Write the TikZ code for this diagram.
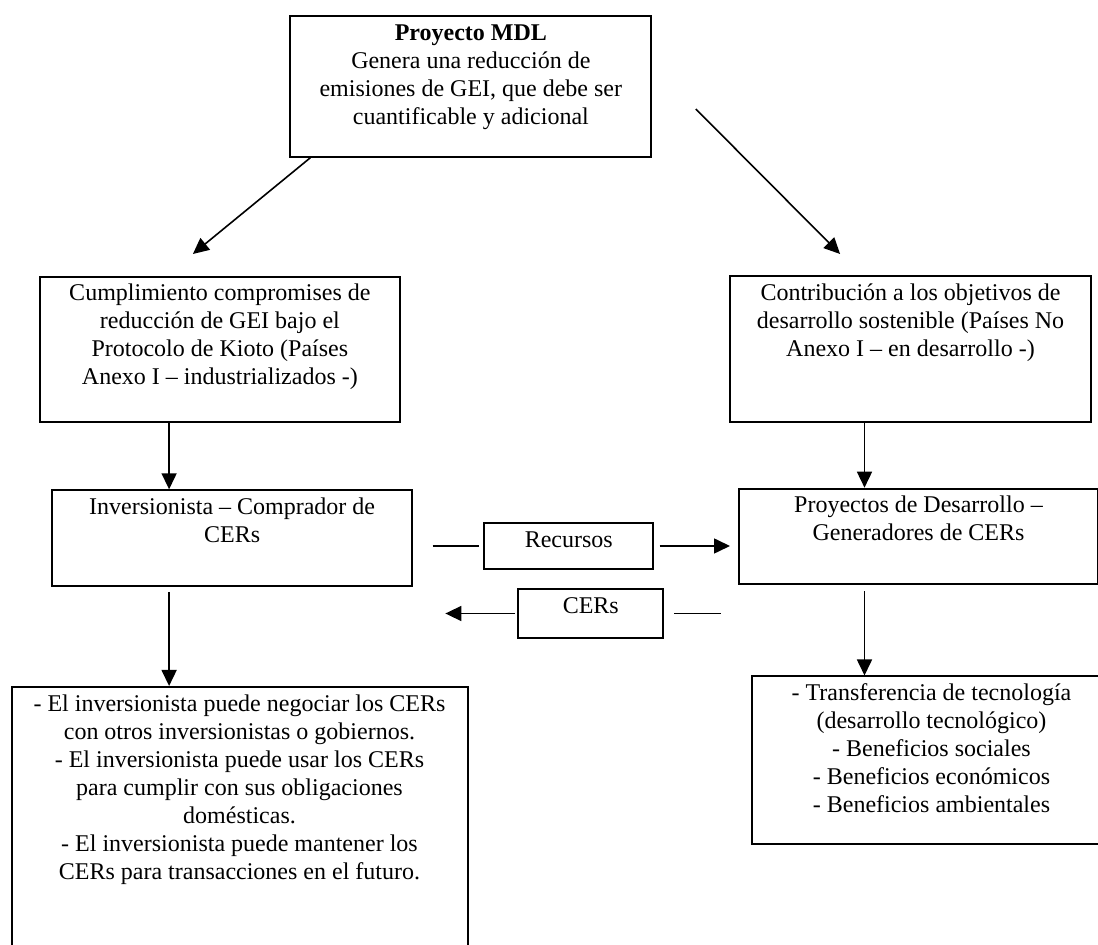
\documentclass[tikz,border=0pt]{standalone}
\usepackage{fontspec}
\setmainfont{Liberation Serif}
\usetikzlibrary{arrows.meta}
\newcommand{\textocaja}[3]{\parbox[c][#2][t]{#1}{\centering\rule{0pt}{12.1pt}#3\par}}
\tikzset{
  caja/.style={draw, line width=1pt, inner sep=0pt, anchor=north west, font=\fontsize{12}{14}\selectfont},
  flecha/.style={line width=0.8pt, -{Triangle[length=8pt,width=7.5pt]}},
  linea/.style={line width=0.8pt}
}

\begin{document}
\begin{tikzpicture}[x=0.5pt,y=-0.5pt]
  \useasboundingbox (0,0) rectangle (1098,945);
  \clip (0,0) rectangle (1098,945);
  % Cajas
  \node[caja] (mdl) at (289.4,15) {\textocaja{180.45pt}{70.35pt}{\textbf{Proyecto MDL}\\Genera una reducción de\\emisiones de GEI, que debe ser\\cuantificable y adicional}};
  \node[caja] (cumplimiento) at (38.6,275.7) {\textocaja{180.3pt}{72.5pt}{Cumplimiento compromises de\\reducción de GEI bajo el\\Protocolo de Kioto (Países\\Anexo I – industrializados -)}};
  \node[caja] (contribucion) at (729,275) {\textocaja{180.5pt}{73pt}{Contribución a los objetivos de\\desarrollo sostenible (Países No\\Anexo I – en desarrollo -)}};
  \node[caja] (inversionista) at (50.9,489.3) {\textocaja{180.25pt}{47.85pt}{Inversionista – Comprador de\\CERs}};
  \node[caja] (proyectos) at (737.7,487.7) {\textocaja{179.8pt}{47.5pt}{Proyectos de Desarrollo –\\Generadores de CERs}};
  \node[caja] (recursos) at (483.3,522.3) {\textocaja{84.5pt}{22.7pt}{Recursos}};
  \node[caja] (cers) at (517.3,588.3) {\textocaja{72.5pt}{24.2pt}{CERs}};
  \node[caja] (usos) at (10.5,686) {\textocaja{228pt}{137pt}{- El inversionista puede negociar los CERs\\con otros inversionistas o gobiernos.\\- El inversionista puede usar los CERs\\para cumplir con sus obligaciones\\domésticas.\\- El inversionista puede mantener los\\CERs para transacciones en el futuro.}};
  \node[caja] (beneficios) at (751,675.5) {\textocaja{179.5pt}{83.9pt}{- Transferencia de tecnología\\(desarrollo tecnológico)\\- Beneficios sociales\\- Beneficios económicos\\- Beneficios ambientales}};
  % Puntos libres
  \coordinate (ejeA) at (169.1,0);
  \coordinate (ejeB) at (864.5,0);
  \coordinate (puntaI) at (192.9,254);
  \coordinate (inicioD) at (695.8,109);
  \coordinate (puntaD) at (840.1,254);
  % Flechas diagonales
  \draw[flecha] ([xshift=10.5pt]mdl.south west) -- (puntaI);
  \draw[flecha] (inicioD) -- (puntaD);
  % Flechas verticales
  \draw[flecha] (ejeA |- cumplimiento.south) -- (ejeA |- inversionista.north);
  \draw[flecha, shorten <=2.5pt] (ejeA |- inversionista.south) -- (ejeA |- usos.north);
  \draw[flecha] (ejeB |- contribucion.south) -- (ejeB |- proyectos.north);
  \draw[flecha, shorten <=3.3pt] (ejeB |- proyectos.south) -- (ejeB |- beneficios.north);
  % Recursos y CERs
  \draw[linea, shorten <=9.65pt, shorten >=2.25pt] (inversionista.east |- recursos.west) -- (recursos.west);
  \draw[flecha, shorten <=2.7pt, shorten >=3.85pt] (recursos.east) -- (proyectos.west |- recursos.east);
  \draw[flecha, shorten <=1.15pt, shorten >=16pt] (cers.west) -- (inversionista.east |- cers.west);
  \draw[linea, shorten <=5pt, shorten >=8.5pt] (cers.east) -- (proyectos.west |- cers.east);
\end{tikzpicture}
\end{document}
